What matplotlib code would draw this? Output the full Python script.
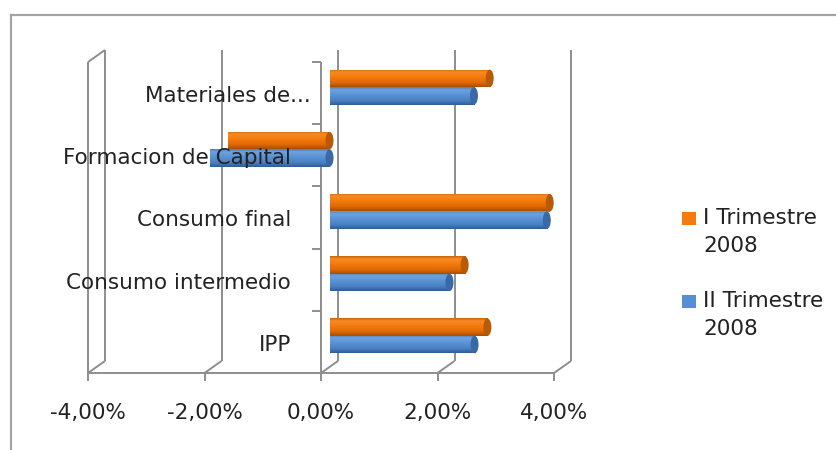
import numpy as np
import matplotlib
matplotlib.use("Agg")
import matplotlib.pyplot as plt
from matplotlib.colors import LinearSegmentedColormap
from matplotlib.patches import Ellipse, Rectangle
from matplotlib.lines import Line2D
from matplotlib.transforms import ScaledTranslation

# ---- data -------------------------------------------------------------
categories = ["IPP", "Consumo intermedio", "Consumo final",
              "Formacion de Capital", "Materiales de..."]
series_names = ["I Trimestre\n2008", "II Trimestre\n2008"]
trim1 = [2.71, 2.32, 3.78, -1.75, 2.75]   # I Trimestre 2008 (%)
trim2 = [2.49, 2.06, 3.73, -2.06, 2.48]   # II Trimestre 2008 (%)
x_ticks = [-4, -2, 0, 2, 4]

# ---- styles -----------------------------------------------------------
W, H, DPI = 836, 450, 100
grid_col = "#8e8e8e"
text_col = "#222222"
fs = 15.5
orange_main, blue_main = "#f47b0d", "#5690d2"
orange_cmap = LinearSegmentedColormap.from_list(
    "o", [(0, "#a84f00"), (0.25, "#e06a05"), (0.6, "#f67d0e"),
          (0.85, "#f78a26"), (1, "#c86408")])
blue_cmap = LinearSegmentedColormap.from_list(
    "b", [(0, "#2f5d96"), (0.25, "#4a80c2"), (0.6, "#5b94d6"),
          (0.85, "#6ea3de"), (1, "#4f7fba")])
cap_cols = ["#b85a06", "#3a69a6"]

plt.rcParams["font.family"] = ["DejaVu Sans"]
fig = plt.figure(figsize=(W / DPI, H / DPI), dpi=DPI)
fig.patch.set_facecolor("white")

# front plane of the 3-D box: x from -4 % to 4 %, y in category bands
x_l, x_r, y_b, y_t = 88, 554, 373, 62
ax = fig.add_axes([x_l / W, 1 - y_b / H, (x_r - x_l) / W, (y_b - y_t) / H])
xmin, xmax, ymin, ymax = -4, 4, 0, len(categories)
ax.set_axis_off()

px_x = (xmax - xmin) / (x_r - x_l)      # data units per pixel
px_y = (ymax - ymin) / (y_b - y_t)
dx, dy = 17 * px_x, 12 * px_y            # depth of the 3-D box


def shifted(px_right, px_down):
    return ax.transData + ScaledTranslation(px_right / DPI, -px_down / DPI,
                                            fig.dpi_scale_trans)


lk = dict(color=grid_col, lw=1.4, solid_capstyle="butt", zorder=1,
          clip_on=False)
# back-wall gridlines and floor diagonals
for t in x_ticks:
    ax.plot([t + dx, t + dx], [ymin + dy, ymax + dy], **lk)
    ax.plot([t, t + dx], [ymin, ymin + dy], **lk)
    ax.plot([t, t], [ymin, ymin - 8 * px_y], **lk)
# front floor edge
ax.plot([xmin, xmax], [ymin, ymin], **lk)
# left wall front edge and top edge
ax.plot([xmin, xmin], [ymin, ymax], **lk)
ax.plot([xmin, xmin + dx], [ymax, ymax + dy], **lk)
# category axis at zero with its ticks
ax.plot([0, 0], [ymin, ymax], **lk)
for k in range(1, len(categories) + 1):
    ax.plot([0, -9 * px_x], [k, k], **lk)

# ---- cylinders --------------------------------------------------------
h = 0.28
ypos = np.arange(len(categories)) + 0.5 + dy / 2
grad = np.linspace(0, 1, 64).reshape(-1, 1)
for vals, off, cmap, main, cap in [
        (trim1, h / 2, orange_cmap, orange_main, cap_cols[0]),
        (trim2, -h / 2, blue_cmap, blue_main, cap_cols[1])]:
    bars = ax.barh(ypos + off, vals, left=dx / 2, height=h, color=main,
                   edgecolor="none", zorder=3)
    for b, v in zip(bars, vals):
        x0, y0 = b.get_x(), b.get_y()
        im = ax.imshow(grad, extent=(x0, x0 + b.get_width(), y0, y0 + h),
                       origin="lower", aspect="auto", cmap=cmap,
                       interpolation="bilinear", zorder=4)
        im.set_clip_path(b)
        xe = dx / 2 + max(v, 0)
        ax.add_patch(Ellipse((xe, y0 + h / 2), 8 * px_x, h,
                             facecolor=cap, edgecolor="none", zorder=5))

ax.set_xlim(xmin, xmax)
ax.set_ylim(ymin, ymax)

# ---- labels -----------------------------------------------------------
for k, name in enumerate(categories):
    gap = 10 if name.endswith("...") else 30
    ax.text(0, k + 0.5, name, transform=shifted(-gap, 3), ha="right",
            va="center", fontsize=fs, color=text_col, zorder=6)

for t in x_ticks:
    ax.text(t, ymin, f"{t:.2f}%".replace(".", ","), transform=shifted(0, 40),
            ha="center", va="center", fontsize=fs, color=text_col)

# ---- legend -----------------------------------------------------------
for (name, col), ytop in zip(zip(series_names, [orange_main, blue_main]),
                             [212, 295]):
    fig.add_artist(Rectangle((682 / W, 1 - (ytop + 13) / H), 14 / W, 13 / H,
                             transform=fig.transFigure, facecolor=col,
                             edgecolor="none"))
    fig.text(703 / W, 1 - (ytop - 4) / H, name, ha="left", va="top",
             fontsize=fs, color=text_col, linespacing=1.5)

# ---- outer frame ------------------------------------------------------
fig.add_artist(Line2D([11 / W, 11 / W], [0, 1 - 15 / H],
                      transform=fig.transFigure, color="#a4a4a4", lw=1.6))
fig.add_artist(Line2D([11 / W, 1], [1 - 15 / H, 1 - 15 / H],
                      transform=fig.transFigure, color="#a4a4a4", lw=1.6))

fig.savefig("out.png", dpi=DPI)
